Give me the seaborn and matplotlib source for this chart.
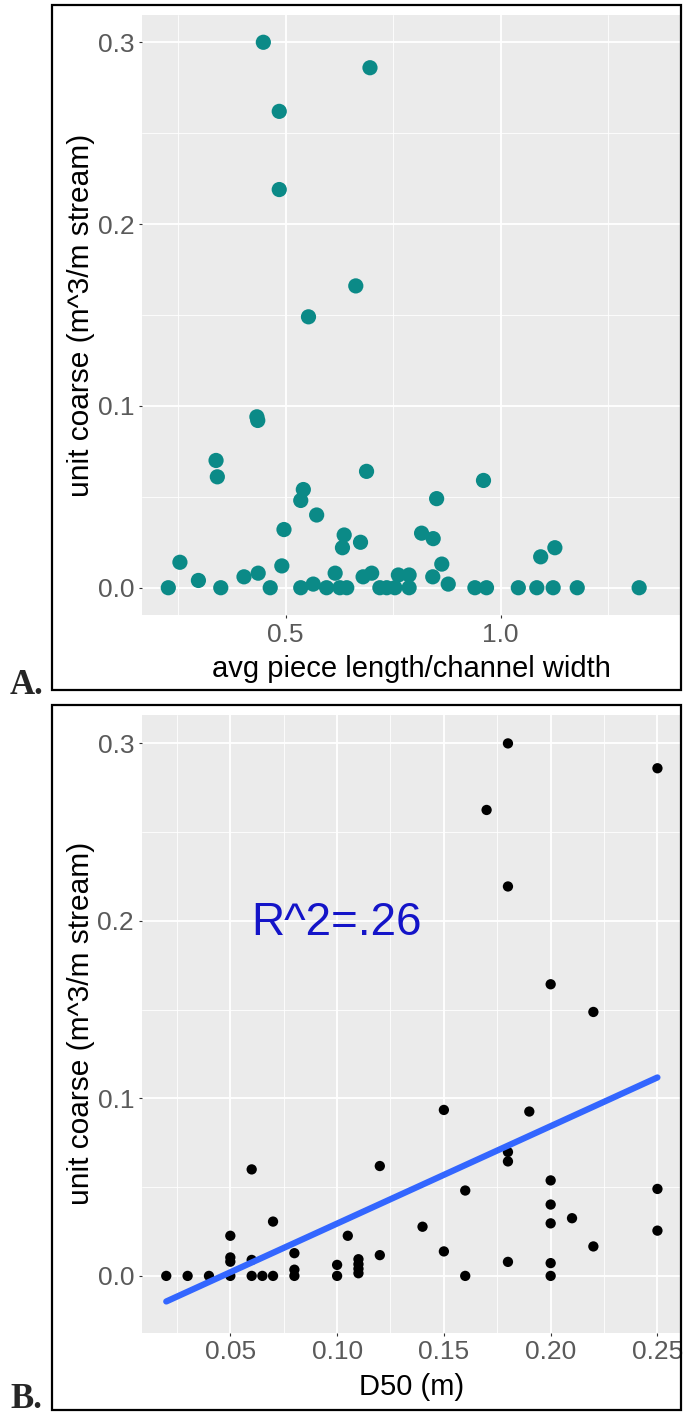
import matplotlib
matplotlib.use("Agg")
import matplotlib.pyplot as plt
from matplotlib.ticker import MultipleLocator, FixedLocator, FixedFormatter
from matplotlib.patches import Rectangle
import pandas as pd
import seaborn as sns

# Panel A: average wood piece length relative to channel width
piece_ratio = [0.448, 0.696, 0.485, 0.485, 0.663, 0.553, 0.433, 0.435, 0.338, 0.341,
               0.688, 0.960, 0.541, 0.535, 0.851, 0.572, 0.496, 0.636, 0.632, 0.674,
               0.816, 0.843, 1.126, 1.093, 0.254, 0.227, 0.297, 0.349, 0.403, 0.436,
               0.464, 0.491, 0.535, 0.564, 0.595, 0.615, 0.626, 0.642, 0.680, 0.700,
               0.719, 0.735, 0.754, 0.762, 0.787, 0.787, 0.842, 0.863, 0.878, 0.940,
               0.967, 1.041, 1.084, 1.122, 1.178, 1.322]
coarse_a = [0.300, 0.286, 0.262, 0.219, 0.166, 0.149, 0.094, 0.092, 0.070, 0.061,
            0.064, 0.059, 0.054, 0.048, 0.049, 0.040, 0.032, 0.029, 0.022, 0.025,
            0.030, 0.027, 0.022, 0.017, 0.014, 0.000, 0.004, 0.000, 0.006, 0.008,
            0.000, 0.012, 0.000, 0.002, 0.000, 0.008, 0.000, 0.000, 0.006, 0.008,
            0.000, 0.000, 0.000, 0.007, 0.007, 0.000, 0.006, 0.013, 0.002, 0.000,
            0.000, 0.000, 0.000, 0.000, 0.000, 0.000]

# Panel B: median grain size D50 (m)
d50 = [0.02, 0.03, 0.04,
       0.05, 0.05, 0.05, 0.05,
       0.06, 0.06, 0.06, 0.065,
       0.07, 0.07,
       0.08, 0.08, 0.08,
       0.10, 0.10, 0.105,
       0.11, 0.11, 0.11, 0.11,
       0.12, 0.12, 0.14, 0.15, 0.15, 0.16, 0.16, 0.17,
       0.18, 0.18, 0.18, 0.18, 0.18, 0.19,
       0.20, 0.20, 0.20, 0.20, 0.20, 0.20,
       0.21, 0.22, 0.22, 0.25, 0.25, 0.25]
coarse_b = [0.000, 0.000, 0.000,
            0.000, 0.008, 0.0104, 0.0226,
            0.000, 0.009, 0.060, 0.000,
            0.000, 0.0306,
            0.000, 0.0035, 0.0128,
            0.000, 0.0062, 0.0226,
            0.0015, 0.004, 0.0066, 0.0094,
            0.0117, 0.0619, 0.0277, 0.0138, 0.0935, 0.000, 0.0481, 0.2625,
            0.0079, 0.0645, 0.0698, 0.2194, 0.300, 0.0926,
            0.000, 0.0072, 0.0296, 0.0402, 0.0538, 0.1643,
            0.0325, 0.0166, 0.1487, 0.0255, 0.049, 0.286]

y_ticks = [0.0, 0.1, 0.2, 0.3]
y_tick_labels = ["0.0", "0.1", "0.2", "0.3"]
xa_ticks = [0.5, 1.0]
xa_tick_labels = ["0.5", "1.0"]
xb_ticks = [0.05, 0.10, 0.15, 0.20, 0.25]
xb_tick_labels = ["0.05", "0.10", "0.15", "0.20", "0.25"]
y_title = "unit coarse (m^3/m stream)"
xa_title = "avg piece length/channel width"
xb_title = "D50 (m)"
r2_text = "R^2=.26"

df_a = pd.DataFrame({"ratio": piece_ratio, "coarse": coarse_a})
df_b = pd.DataFrame({"d50": d50, "coarse": coarse_b})

sns.set_theme(style="darkgrid", rc={
    "axes.facecolor": "#EBEBEB",
    "grid.color": "white",
    "axes.edgecolor": "none",
})
plt.rcParams["font.family"] = ["Liberation Sans", "DejaVu Sans"]

W, H = 683, 1416
fig = plt.figure(figsize=(W / 100, H / 100), dpi=100)
fig.patch.set_facecolor("white")


def frac(left, top, right, bottom):
    return [left / W, 1 - bottom / H, (right - left) / W, (bottom - top) / H]


ax_a = fig.add_axes(frac(142, 15, 680, 615))
ax_b = fig.add_axes(frac(141.7, 715, 682, 1332.7))

sns.scatterplot(data=df_a, x="ratio", y="coarse", ax=ax_a, color="#0b8a87",
                s=120, edgecolor="none", linewidth=0, alpha=1, zorder=3)

sns.regplot(data=df_b, x="d50", y="coarse", ax=ax_b, ci=None,
            scatter_kws={"color": "black", "s": 55, "edgecolor": "none",
                         "alpha": 1, "zorder": 3},
            line_kws={"color": "#3366FF", "lw": 4.5, "zorder": 4})

ax_b.text(0.0996, 0.1987, r2_text, ha="center", va="center", fontsize=33,
          color="#1414c8", zorder=5)


def style(ax, xticks, xlabels, xminor, xlim, ylim, xtitle):
    ax.set_xlim(*xlim)
    ax.set_ylim(*ylim)
    ax.xaxis.set_major_locator(FixedLocator(xticks))
    ax.xaxis.set_major_formatter(FixedFormatter(xlabels))
    ax.yaxis.set_major_locator(FixedLocator(y_ticks))
    ax.yaxis.set_major_formatter(FixedFormatter(y_tick_labels))
    ax.xaxis.set_minor_locator(MultipleLocator(xminor))
    ax.yaxis.set_minor_locator(MultipleLocator(0.05))
    ax.grid(which="major", color="white", lw=1.3)
    ax.grid(which="minor", color="white", lw=0.6)
    ax.tick_params(which="major", length=2.5, width=0.8, color="#333333",
                   labelsize=19, labelcolor="#5a5a5a", pad=3,
                   bottom=True, left=True)
    ax.tick_params(which="minor", length=0)
    for s in ax.spines.values():
        s.set_visible(False)
    ax.set_xlabel(xtitle, fontsize=21, color="black", labelpad=6)
    ax.set_ylabel(y_title, fontsize=21.5, color="black", labelpad=2)


style(ax_a, xa_ticks, xa_tick_labels, 0.25, (0.1658, 1.417), (-0.015, 0.315), xa_title)
style(ax_b, xb_ticks, xb_tick_labels, 0.025, (0.0085, 0.2615), (-0.032, 0.316), xb_title)

# Boxes around the two panels and their letters
for top, bottom in [(5, 690), (705, 1410)]:
    fig.patches.append(Rectangle((52 / W, 1 - bottom / H), (681 - 52) / W,
                                 (bottom - top) / H, transform=fig.transFigure,
                                 fill=False, edgecolor="black", lw=1.6, zorder=10))

fig.text(10 / W, 1 - 694 / H, "A.", fontsize=25, fontweight="bold",
         family=["Liberation Serif", "DejaVu Serif"], ha="left", va="baseline")
fig.text(10 / W, 1 - 1408 / H, "B.", fontsize=25, fontweight="bold",
         family=["Liberation Serif", "DejaVu Serif"], ha="left", va="baseline")

fig.savefig("out.png", dpi=100, facecolor="white")
